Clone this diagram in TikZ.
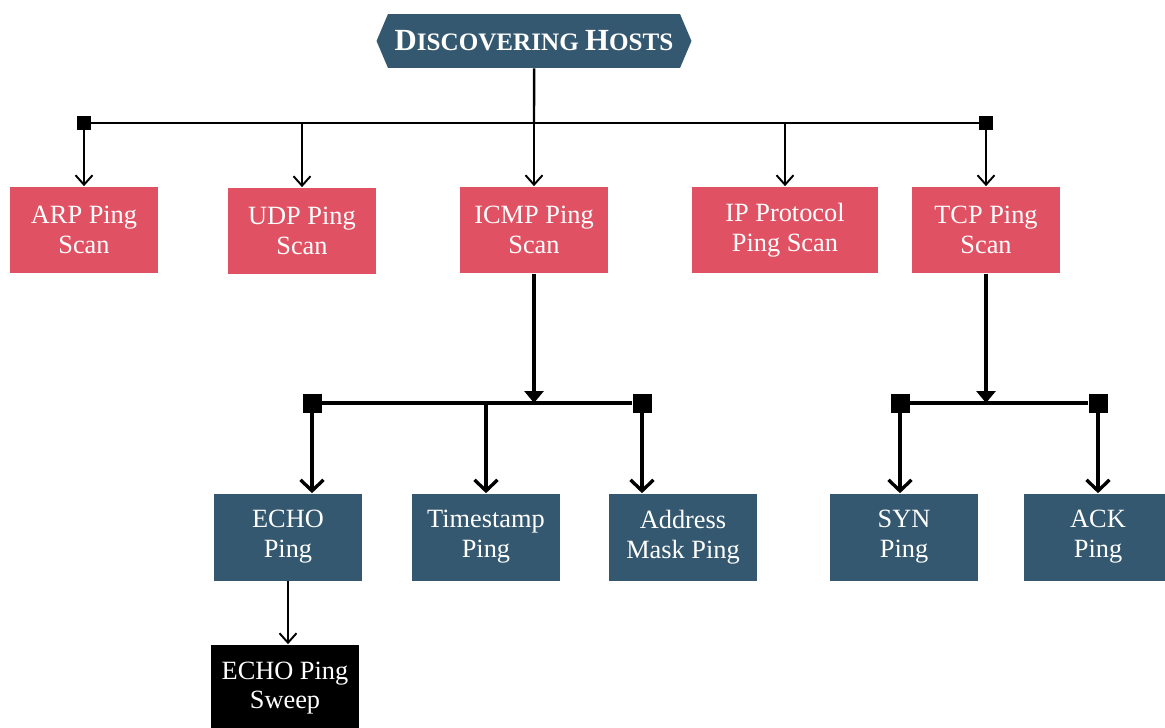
\documentclass[tikz,border=0pt]{standalone}
\usepackage{fontspec}
\setmainfont{Liberation Serif}
\usetikzlibrary{arrows.meta,shapes.symbols}
\definecolor{scanred}{RGB}{224,82,99}
\definecolor{pingteal}{RGB}{52,88,111}

\begin{document}
\begin{tikzpicture}[
  x=0.02cm,y=-0.02cm,
  title/.style={signal,signal to=west and east,signal pointer angle=134,fill=pingteal,text=white,
    minimum width=6.3cm,minimum height=1.08cm,inner sep=0pt,font=\bfseries},
  scanbox/.style={rectangle,fill=scanred,text=white,align=center,minimum width=2.96cm,minimum height=1.74cm,
    font=\fontsize{15}{17}\selectfont},
  pingbox/.style={scanbox,fill=pingteal},
  sweepbox/.style={scanbox,fill=black},
  hub/.style={rectangle,fill=black,inner sep=0pt,minimum size=0.28cm},
  bighub/.style={hub,minimum size=0.38cm},
  bus/.style={line width=1.4pt},
  arrow/.style={-{Straight Barb[length=1.9mm,width=3.4mm]},line width=1.1pt},
  thickarrow/.style={-{Straight Barb[length=2.2mm,width=4.6mm]},line width=1.9pt},
  feed/.style={-{Triangle[length=2.4mm,width=3.8mm]},line width=1.9pt}
]
\useasboundingbox (0,0) rectangle (1165,727);

% top level
\node[title] (hosts) at (534,41) {\fontsize{17.5}{18}\selectfont D\fontsize{14.3}{18}\selectfont ISCOVERING
  \fontsize{17.5}{18}\selectfont H\fontsize{14.3}{18}\selectfont OSTS};
\node[hub] (tl) at (84,123) {};
\node[hub] (tr) at (986,123) {};

\node[scanbox] (arp) at (84,230) {ARP Ping\\Scan};
\node[scanbox] (udp) at (302,231) {UDP Ping\\Scan};
\node[scanbox] (icmp) at (534,230) {ICMP Ping\\Scan};
\node[scanbox,minimum width=3.72cm] (ipproto) at (785,230) {IP Protocol\\Ping Scan};
\node[scanbox] (tcp) at (986,230) {TCP Ping\\Scan};

\draw[bus] (tl) -- (tr);
\draw[bus] (hosts) -- (hosts |- tl);
\draw[arrow] (tl) -- (arp);
\draw[arrow] (udp |- tl) -- (udp);
\draw[arrow] (icmp |- tl) -- (icmp);
\draw[arrow] (ipproto |- tl) -- (ipproto);
\draw[arrow] (tr) -- (tcp);

% icmp branch
\node[bighub] (ml) at (312,403) {};
\node[bighub] (mr) at (642,403) {};
\node[pingbox] (echo) at (288,537) {ECHO\\Ping};
\node[pingbox] (stamp) at (486,537) {Timestamp\\Ping};
\node[pingbox] (mask) at (683,537) {Address\\Mask Ping};
\node[sweepbox] (sweep) at (285,688) {ECHO Ping\\Sweep};

\draw[feed] (icmp) -- (icmp |- ml);
\draw[bus,line width=1.9pt] (ml) -- (mr);
\draw[thickarrow] (ml) -- (ml |- echo.north);
\draw[thickarrow] (stamp |- ml) -- (stamp);
\draw[thickarrow] (mr) -- (mr |- mask.north);
\draw[arrow] (echo) -- (echo |- sweep.north);

% tcp branch
\node[bighub] (sl) at (900,403) {};
\node[bighub] (sr) at (1098,403) {};
\node[pingbox] (syn) at (904,537) {SYN\\Ping};
\node[pingbox] (ack) at (1098,537) {ACK\\Ping};

\draw[feed] (tcp) -- (tcp |- sl);
\draw[bus,line width=1.9pt] (sl) -- (sr);
\draw[thickarrow] (sl) -- (sl |- syn.north);
\draw[thickarrow] (sr) -- (ack);
\end{tikzpicture}
\end{document}
